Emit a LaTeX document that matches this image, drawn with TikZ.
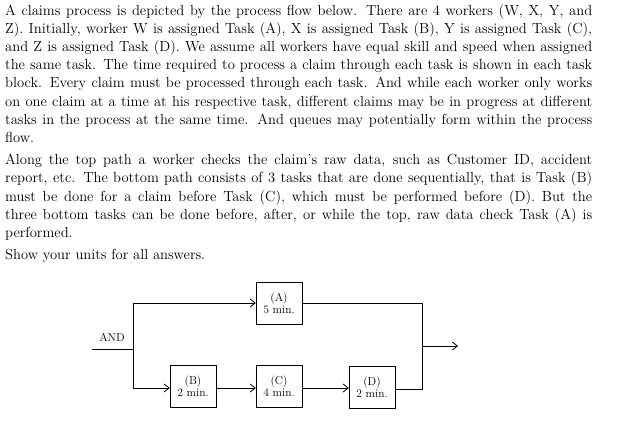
\documentclass[tikz,border=0pt]{standalone}
\usetikzlibrary{arrows.meta}
\begin{document}
\begin{tikzpicture}[x=1pt,y=-1pt,
  task/.style={draw,thin,minimum width=46pt,minimum height=42pt,align=center,font=\fontsize{11.5}{12.5}\selectfont,inner sep=1pt},
  flow/.style={thick,-{Straight Barb[length=5pt,width=8pt]}},
  line/.style={thick}]
\useasboundingbox (0,0) rectangle (636,431);
\node[anchor=north west,text width=587pt,align=justify,inner sep=0pt,font=\fontsize{14.6}{18.2}\selectfont] (txt) at (5,4) {%
\setlength{\parskip}{4pt}%
A claims process is depicted by the process flow below. There are 4 workers (W, X, Y, and\linebreak
Z). Initially, worker W is assigned Task (A), X is assigned Task (B), Y is assigned Task (C),\linebreak
and Z is assigned Task (D). We assume all workers have equal skill and speed when assigned\linebreak
the same task. The time required to process a claim through each task is shown in each task\linebreak
block. Every claim must be processed through each task. And while each worker only works\linebreak
on one claim at a time at his respective task, different claims may be in progress at different\linebreak
tasks in the process at the same time. And queues may potentially form within the process\linebreak
flow.\par
Along the top path a worker checks the claim's raw data, such as Customer ID, accident\linebreak
report, etc. The bottom path consists of 3 tasks that are done sequentially, that is Task (B)\linebreak
must be done for a claim before Task (C), which must be performed before (D). But the\linebreak
three bottom tasks can be done before, after, or while the top, raw data check Task (A) is\linebreak
performed.\par
Show your units for all answers.};
\node[task] (A) at (279,303.5) {(A)\\5 min.};
\node[task] (B) at (193,386) {(B)\\2 min.};
\node[task] (C) at (279,386) {(C)\\4 min.};
\node[task] (D) at (372,387) {(D)\\2 min.};
\coordinate (in) at (92,349);
\coordinate (split) at (133,349);
\coordinate (splitT) at (133,303);
\coordinate (splitB) at (133,388);
\coordinate (joinT) at (422,303);
\coordinate (joinB) at (422,389);
\coordinate (joinM) at (422,346);
\coordinate (out) at (458,346);
\node[font=\fontsize{11.5}{12.5}\selectfont] (and) at (112,337) {AND};
\draw[line] (in) -- (split) -- (splitT);
\draw[flow] (splitT) -- (A.west|-splitT);
\draw[line] (split) -- (splitB);
\draw[flow] (splitB) -- (B.west|-splitB);
\draw[flow] (B.east|-splitB) -- (C.west|-splitB);
\draw[flow] (C.east|-splitB) -- (D.west|-splitB);
\draw[line] (A.east|-splitT) -- (joinT) -- (joinB) -- (D.east|-joinB);
\draw[flow] (joinM) -- (out);
\end{tikzpicture}
\end{document}
